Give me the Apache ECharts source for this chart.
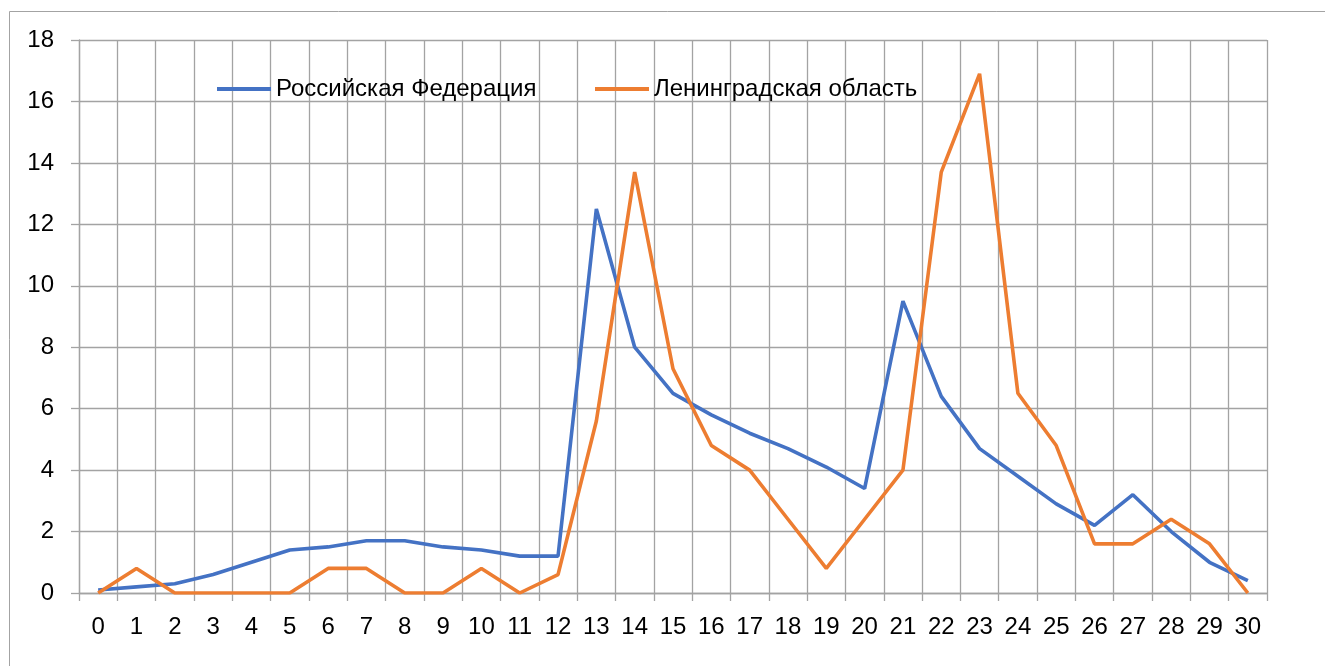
<!DOCTYPE html>
<html>
<head>
<meta charset="utf-8">
<script src="https://cdn.jsdelivr.net/npm/echarts@6/dist/echarts.min.js"></script>
<style>
  html, body { margin: 0; padding: 0; background: #fff; }
  #chartBox { width: 1325px; height: 666px; }
</style>
</head>
<body>
<div id="chartBox"></div>
<script>
// дни (ось X)
const days = [];
for (let d = 0; d <= 30; d++) days.push(String(d));

// Российская Федерация
const rfValues = [0.1, 0.2, 0.3, 0.6, 1.0, 1.4, 1.5, 1.7, 1.7, 1.5, 1.4, 1.2, 1.2, 12.5, 8.0, 6.5,
  5.8, 5.2, 4.7, 4.1, 3.4, 9.5, 6.4, 4.7, 3.8, 2.9, 2.2, 3.2, 2.0, 1.0, 0.4];

// Ленинградская область
const loValues = [0, 0.8, 0, 0, 0, 0, 0.8, 0.8, 0, 0, 0.8, 0, 0.6, 5.6, 13.7, 7.3,
  4.8, 4.0, 2.4, 0.8, 2.4, 4.0, 13.7, 16.9, 6.5, 4.8, 1.6, 1.6, 2.4, 1.6, 0];

const seriesNames = ["Российская Федерация", "Ленинградская область"];

const gridColor = "#a3a3a3";
const fontFamily = "Liberation Sans";

const legendText = { color: "#000", fontSize: 24, fontFamily: fontFamily };

let option = {
  animation: false,
  textStyle: { fontFamily: fontFamily },
  // рамка области диаграммы
  graphic: [
    {
      type: "rect",
      shape: { x: 9.5, y: 11.5, width: 1400, height: 700 },
      style: { fill: "none", stroke: gridColor, lineWidth: 1 },
      silent: true,
    },
  ],
  legend: [
    {
      data: [seriesNames[0]],
      left: 217,
      top: 77,
      padding: 0,
      icon: "rect",
      itemWidth: 54,
      itemHeight: 4,
      textStyle: legendText,
    },
    {
      data: [seriesNames[1]],
      left: 595,
      top: 77,
      padding: 0,
      icon: "rect",
      itemWidth: 54,
      itemHeight: 4,
      textStyle: legendText,
    },
  ],
  grid: {
    left: 79,
    right: 58,
    top: 40,
    height: 553,
    containLabel: false,
  },
  xAxis: {
    type: "category",
    data: days,
    boundaryGap: true,
    axisLine: { show: true, lineStyle: { color: gridColor, width: 1.3 } },
    axisTick: { show: true, interval: 0, length: 8, lineStyle: { color: gridColor, width: 1.3 } },
    axisLabel: { interval: 0, margin: 22, color: "#000", fontSize: 24, fontFamily: fontFamily },
    splitLine: { show: true, interval: 0, lineStyle: { color: gridColor, width: 1.3 } },
  },
  yAxis: {
    type: "value",
    min: 0,
    max: 18,
    interval: 2,
    axisLine: { show: true, lineStyle: { color: gridColor, width: 1.3 } },
    axisTick: { show: true, length: 8, lineStyle: { color: gridColor, width: 1.3 } },
    axisLabel: { margin: 25, color: "#000", fontSize: 24, fontFamily: fontFamily },
    splitLine: { show: true, lineStyle: { color: gridColor, width: 1.3 } },
  },
  series: [
    {
      name: seriesNames[0],
      type: "line",
      data: rfValues,
      showSymbol: false,
      symbol: "none",
      color: "#4472c4",
      lineStyle: { width: 3.6, color: "#4472c4" },
    },
    {
      name: seriesNames[1],
      type: "line",
      data: loValues,
      showSymbol: false,
      symbol: "none",
      color: "#ed7d31",
      lineStyle: { width: 3.6, color: "#ed7d31" },
    },
  ],
};

let myChart = echarts.init(document.getElementById("chartBox"));
myChart.setOption(option);
window.addEventListener("resize", () => {
  myChart.resize();
});
</script>
</body>
</html>
